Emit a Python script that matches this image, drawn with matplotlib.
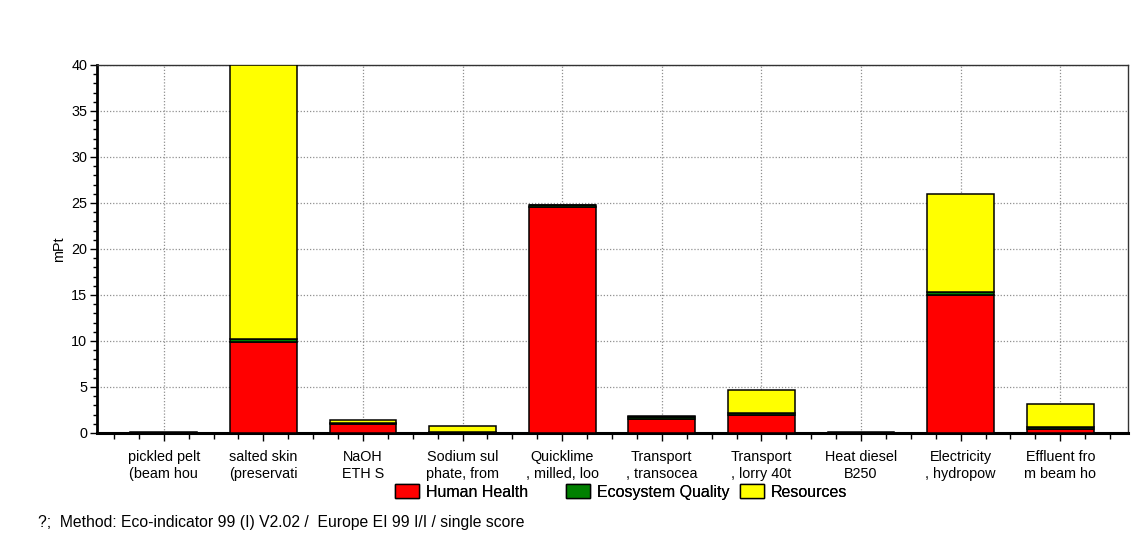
import matplotlib
matplotlib.use("Agg")
import matplotlib.pyplot as plt
from matplotlib.patches import Patch
from matplotlib.ticker import MultipleLocator
import numpy as np

plt.rcParams['font.family'] = ['Liberation Sans', 'DejaVu Sans']

# Process contributions (mPt) per damage category
categories = [
    "pickled pelt\n(beam hou",
    "salted skin\n(preservati",
    "NaOH\nETH S",
    "Sodium sul\nphate, from",
    "Quicklime\n, milled, loo",
    "Transport\n, transocea",
    "Transport\n, lorry 40t",
    "Heat diesel\nB250",
    "Electricity\n, hydropow",
    "Effluent fro\nm beam ho",
]
human_health = [0.02, 9.9, 1.0, 0.02, 24.6, 1.5, 2.0, 0.02, 15.0, 0.4]
ecosystem_quality = [0.005, 0.3, 0.1, 0.05, 0.15, 0.2, 0.2, 0.005, 0.3, 0.2]
resources = [0.03, 29.8, 0.3, 0.68, 0.05, 0.13, 2.45, 0.03, 10.7, 2.5]

series_names = ["Human Health", "Ecosystem Quality", "Resources"]
series_colors = ["#ff0000", "#008000", "#ffff00"]

W, H = 1147, 552
fig = plt.figure(figsize=(W / 100, H / 100), dpi=100)
ax = fig.add_axes([97 / W, 1 - 433 / H, (1128 - 97) / W, (433 - 65) / H])

x = np.arange(len(categories))
bottom = np.zeros(len(categories))
for vals, color in zip([human_health, ecosystem_quality, resources], series_colors):
    ax.bar(x, vals, width=0.67, bottom=bottom, color=color,
           edgecolor="black", linewidth=1.1, zorder=3)
    bottom += np.array(vals)

ax.set_xlim(-0.67, len(categories) - 1 + 0.68)
ax.set_ylim(0, 40)

ax.set_xticks(x)
ax.set_xticklabels(categories, fontsize=10.4, linespacing=1.3)
ax.xaxis.set_minor_locator(MultipleLocator(0.25))
ax.yaxis.set_major_locator(MultipleLocator(5))
ax.yaxis.set_minor_locator(MultipleLocator(1))
ax.tick_params(axis="y", which="major", length=5, width=1, labelsize=10.4, pad=2)
ax.tick_params(axis="y", which="minor", length=3, width=1)
ax.tick_params(axis="x", which="major", length=6, width=1, pad=6)
ax.tick_params(axis="x", which="minor", length=4, width=1)

ax.grid(True, which="major", linestyle=(0, (1, 1.5)), color="#909090",
        linewidth=0.9, zorder=0)
ax.set_axisbelow(True)

ax.spines["left"].set_linewidth(2.0)
ax.spines["bottom"].set_linewidth(2.2)
ax.spines["top"].set_linewidth(1.0)
ax.spines["right"].set_linewidth(1.0)
ax.spines["top"].set_color("#333333")
ax.spines["right"].set_color("#333333")

ax.set_ylabel("mPt", fontsize=10.4, labelpad=3.5)

# One legend entry per series, each placed at its own left edge
legend_left_px = [395, 566, 740]
for name, color, left in zip(series_names, series_colors, legend_left_px):
    leg = fig.legend([Patch(facecolor=color, edgecolor="black", linewidth=1.0)],
                     [name], loc="center left", frameon=False,
                     bbox_to_anchor=(left / W, 1 - 492 / H), fontsize=11.5,
                     handlelength=1.5, handleheight=0.9, handletextpad=0.45,
                     borderpad=0, borderaxespad=0)
    fig.add_artist(leg)

fig.text(38 / W, 1 - 522 / H,
         "?;  Method: Eco-indicator 99 (I) V2.02 /  Europe EI 99 I/I / single score",
         fontsize=11.3, va="center", ha="left")

fig.savefig("out.png", dpi=100)
